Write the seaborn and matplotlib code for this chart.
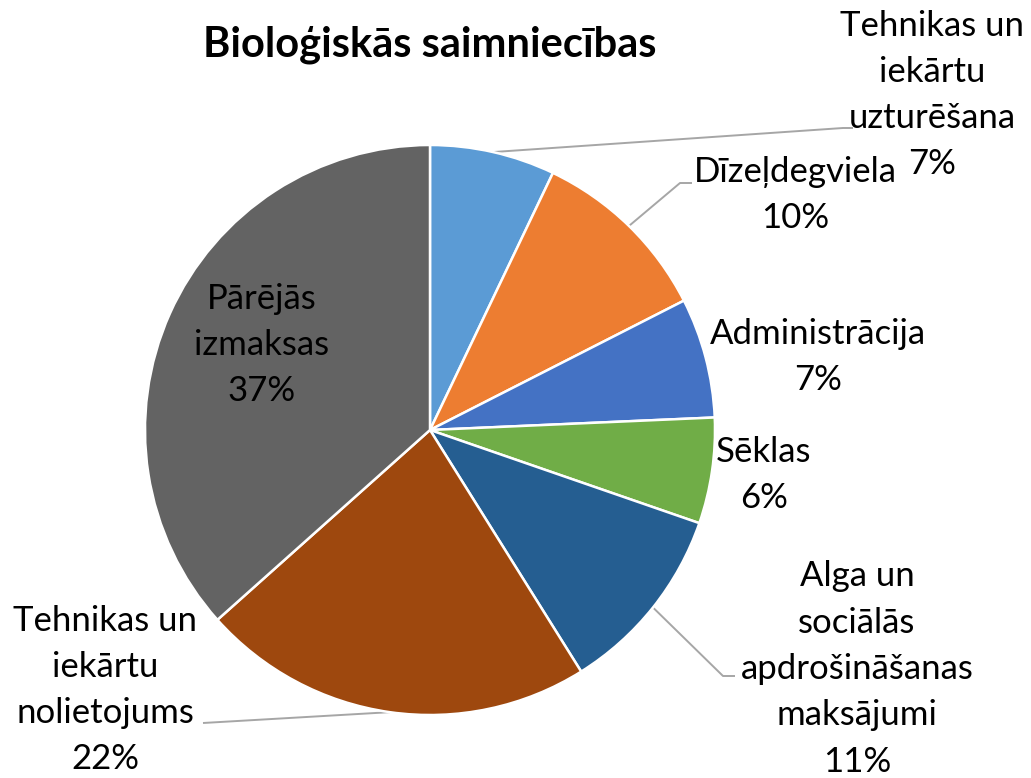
import matplotlib
matplotlib.use("Agg")
import matplotlib.pyplot as plt
import seaborn as sns
import numpy as np

# data (shares, %)
categories = [
    "Tehnikas un\niekārtu\nuzturēšana",
    "Dīzeļdegviela",
    "Administrācija",
    "Sēklas",
    "Alga un\nsociālās\napdrošināšanas\nmaksājumi",
    "Tehnikas un\niekārtu\nnolietojums",
    "Pārējās\nizmaksas",
]
shares = [7.1, 10.4, 6.8, 6.0, 10.8, 22.3, 36.6]
colors = ["#5B9BD5", "#ED7D31", "#4472C4", "#70AD47", "#255E91", "#9E480E", "#636363"]
title = "Bioloģiskās saimniecības"

sns.set_theme(style="white")
plt.rcParams["font.family"] = ["Lato", "DejaVu Sans"]

W, H = 1031, 778
CX, CY, R = 430, 430, 285  # pie centre and radius in pixels


def to_data(x, y):
    return ((x - CX) / R, (CY - y) / R)


fig = plt.figure(figsize=(W / 100, H / 100), dpi=100)
ax = fig.add_axes([0, 0, 1, 1])

wedges, _ = ax.pie(
    shares,
    colors=colors,
    startangle=90,
    counterclock=False,
    radius=1,
    wedgeprops=dict(edgecolor="white", linewidth=1.8),
)
ax.set_xlim(-CX / R, (W - CX) / R)
ax.set_ylim(-(H - CY) / R, CY / R)
ax.set_aspect("equal")
ax.axis("off")

# label centres (pixels) and leader-line elbows (None = no leader)
label_pos = [(932, 95), (795, 195), (818, 357), (764, 475), (857, 669), (105, 690), (262, 345)]
elbows = [((843, 128), (853, 128)), ((680, 183), (692, 183)), None, None,
          ((723, 676), (735, 676)), ((203, 723), (203, 723)), None]

for w, cat, val, pos, elb in zip(wedges, categories, shares, label_pos, elbows):
    x, y = to_data(*pos)
    ax.text(x, y, f"{cat}\n{val:.0f}%", ha="center", va="center",
            fontsize=25, color="#000000", linespacing=1.55)
    if elb is not None:
        mid = np.deg2rad((w.theta1 + w.theta2) / 2)
        sx, sy = np.cos(mid), np.sin(mid)
        (ex, ey), (fx, fy) = to_data(*elb[0]), to_data(*elb[1])
        ax.plot([sx, ex, fx], [sy, ey, fy], color="#A6A6A6", lw=1.4,
                solid_capstyle="butt", zorder=0.5)

tx, ty = to_data(430, 45)
ax.text(tx, ty, title, ha="center", va="center", fontsize=30, fontweight="bold",
        color="#000000")

fig.savefig("out.png", dpi=100, facecolor="white")
